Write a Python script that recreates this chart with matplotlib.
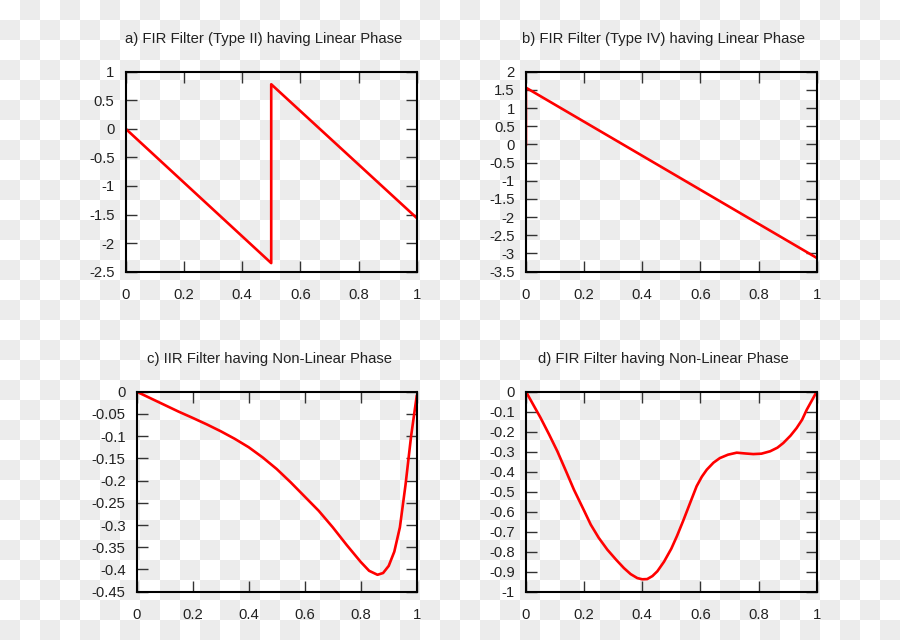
import numpy as np
import matplotlib
matplotlib.use('Agg')
import matplotlib.pyplot as plt
from matplotlib.ticker import FuncFormatter, MultipleLocator

plt.rcParams['font.family'] = ['Liberation Sans', 'DejaVu Sans']
plt.rcParams['font.size'] = 10.7
plt.rcParams['axes.unicode_minus'] = False

# a) type II FIR - linear phase, wraps at 0.5
xa = [0.0, 0.5, 0.5, 1.0]
ya = [0.0, -2.35, 0.78, -1.56]

# b) type IV FIR - linear phase with pi/2 offset
xb = [0.0, 0.0, 1.0]
yb = [0.0, 1.56, -3.12]

# c) IIR filter phase
xc = [0.0, 0.05, 0.1, 0.15, 0.2, 0.25, 0.3, 0.35, 0.4, 0.45, 0.5, 0.55, 0.6, 0.65,
      0.7, 0.75, 0.8, 0.83, 0.86, 0.88, 0.9, 0.92, 0.94, 0.96, 0.98, 1.0]
yc = [0.0, -0.015, -0.03, -0.045, -0.059, -0.0735, -0.089, -0.106, -0.125, -0.148,
      -0.174, -0.204, -0.236, -0.268, -0.305, -0.345, -0.383, -0.403, -0.412, -0.408,
      -0.392, -0.36, -0.305, -0.21, -0.1, -0.01]

# d) FIR filter with non-linear phase
xd = [0.0, 0.025, 0.05, 0.08, 0.108, 0.14, 0.165, 0.2, 0.223, 0.25, 0.28, 0.31,
      0.337, 0.36, 0.383, 0.4, 0.417, 0.435, 0.452, 0.475, 0.5, 0.52, 0.541, 0.565,
      0.587, 0.605, 0.622, 0.645, 0.667, 0.695, 0.725, 0.755, 0.782, 0.81, 0.84,
      0.865, 0.885, 0.91, 0.931, 0.95, 0.966, 0.985, 1.0]
yd = [0.0, -0.065, -0.13, -0.215, -0.298, -0.405, -0.49, -0.595, -0.665, -0.73, -0.79,
      -0.84, -0.882, -0.912, -0.932, -0.938, -0.937, -0.922, -0.898, -0.85, -0.785,
      -0.72, -0.645, -0.555, -0.473, -0.425, -0.39, -0.355, -0.332, -0.315, -0.305,
      -0.309, -0.312, -0.31, -0.298, -0.28, -0.257, -0.22, -0.182, -0.14, -0.09,
      -0.04, 0.0]

titles = ['a) FIR Filter (Type II) having Linear Phase',
          'b) FIR Filter (Type IV) having Linear Phase',
          'c) IIR Filter having Non-Linear Phase',
          'd) FIR Filter having Non-Linear Phase']

fig = plt.figure(figsize=(9, 6.4), dpi=100)

# checkerboard background
bg = fig.add_axes([0, 0, 1, 1], zorder=-1)
ii, jj = np.meshgrid(np.arange(45), np.arange(32))
bg.imshow((ii + jj) % 2, cmap=matplotlib.colors.ListedColormap(['white', '#ececec']),
          aspect='auto', interpolation='nearest')
bg.axis('off')

rects = [[0.1397, 0.5755, 0.3233, 0.3125],
         [0.5844, 0.5755, 0.3230, 0.3125],
         [0.1519, 0.0755, 0.3111, 0.3125],
         [0.5844, 0.0755, 0.3230, 0.3125]]
data = [(xa, ya), (xb, yb), (xc, yc), (xd, yd)]
ylims = [(-2.5, 1), (-3.5, 2), (-0.45, 0), (-1, 0)]
ysteps = [0.5, 0.5, 0.05, 0.1]

fmt = FuncFormatter(lambda v, p: '%g' % round(v, 4))

for r, (x, y), yl, ys, t in zip(rects, data, ylims, ysteps, titles):
    ax = fig.add_axes(r)
    ax.set_facecolor('none')
    ax.plot(x, y, color='#ff0000', lw=1.9, solid_joinstyle='round')
    ax.set_xlim(0, 1)
    ax.set_ylim(*yl)
    ax.xaxis.set_major_locator(MultipleLocator(0.2))
    ax.yaxis.set_major_locator(MultipleLocator(ys))
    ax.xaxis.set_major_formatter(fmt)
    ax.yaxis.set_major_formatter(fmt)
    ax.tick_params(direction='in', length=8, width=1.0, color='#333333',
                   top=True, right=True, labelcolor='#222222')
    ax.tick_params(axis='x', pad=12)
    ax.tick_params(axis='y', pad=8)
    for s in ax.spines.values():
        s.set_linewidth(1.5)
        s.set_color('black')
    ax.set_title(t, x=0.4725, pad=21, color='#222222', fontsize=10.7)

fig.savefig('out.png', dpi=100)
